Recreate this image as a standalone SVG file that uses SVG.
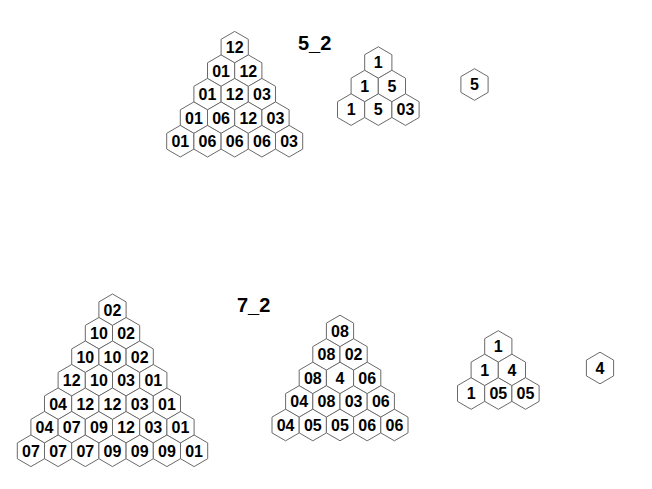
<svg xmlns="http://www.w3.org/2000/svg" width="652" height="489" viewBox="0 0 652 489">
<style>
.h{fill:#fff;stroke:#6a6a6a;stroke-width:1}
.t{font-family:"Liberation Sans",Arial,sans-serif;font-weight:bold;font-size:16px;text-anchor:middle;fill:#000}
.lbl{font-family:"Liberation Sans",Arial,sans-serif;font-weight:bold;font-size:20px;fill:#000}
</style>
<defs>
<polygon id="hex" class="h" points="0,-15.8 13.6,-7.9 13.6,7.9 0,15.8 -13.6,7.9 -13.6,-7.9"/>
</defs>
<rect width="652" height="489" fill="#fff"/>
<text class="lbl" x="298" y="49.5">5_2</text>
<text class="lbl" x="237" y="312">7_2</text>
<g id="pyrA">
<g id="a1" transform="translate(234.7,47.2)"><use href="#hex"/><text class="t" y="5.8">12</text></g>
<g id="a2" transform="translate(221.1,70.7)"><use href="#hex"/><text class="t" y="5.8">01</text></g>
<g id="a3" transform="translate(248.3,70.7)"><use href="#hex"/><text class="t" y="5.8">12</text></g>
<g id="a4" transform="translate(207.5,94.2)"><use href="#hex"/><text class="t" y="5.8">01</text></g>
<g id="a5" transform="translate(234.7,94.2)"><use href="#hex"/><text class="t" y="5.8">12</text></g>
<g id="a6" transform="translate(261.9,94.2)"><use href="#hex"/><text class="t" y="5.8">03</text></g>
<g id="a7" transform="translate(193.9,117.7)"><use href="#hex"/><text class="t" y="5.8">01</text></g>
<g id="a8" transform="translate(221.1,117.7)"><use href="#hex"/><text class="t" y="5.8">06</text></g>
<g id="a9" transform="translate(248.3,117.7)"><use href="#hex"/><text class="t" y="5.8">12</text></g>
<g id="a10" transform="translate(275.5,117.7)"><use href="#hex"/><text class="t" y="5.8">03</text></g>
<g id="a11" transform="translate(180.3,141.2)"><use href="#hex"/><text class="t" y="5.8">01</text></g>
<g id="a12" transform="translate(207.5,141.2)"><use href="#hex"/><text class="t" y="5.8">06</text></g>
<g id="a13" transform="translate(234.7,141.2)"><use href="#hex"/><text class="t" y="5.8">06</text></g>
<g id="a14" transform="translate(261.9,141.2)"><use href="#hex"/><text class="t" y="5.8">06</text></g>
<g id="a15" transform="translate(289.1,141.2)"><use href="#hex"/><text class="t" y="5.8">03</text></g>
</g>
<g id="pyrB">
<g id="b1" transform="translate(378.3,62.6)"><use href="#hex"/><text class="t" y="5.8">1</text></g>
<g id="b2" transform="translate(364.7,86.1)"><use href="#hex"/><text class="t" y="5.8">1</text></g>
<g id="b3" transform="translate(391.9,86.1)"><use href="#hex"/><text class="t" y="5.8">5</text></g>
<g id="b4" transform="translate(351.1,109.6)"><use href="#hex"/><text class="t" y="5.8">1</text></g>
<g id="b5" transform="translate(378.3,109.6)"><use href="#hex"/><text class="t" y="5.8">5</text></g>
<g id="b6" transform="translate(405.5,109.6)"><use href="#hex"/><text class="t" y="5.8">03</text></g>
</g>
<g id="c1" transform="translate(474.5,84.5)"><use href="#hex"/><text class="t" y="5.8">5</text></g>
<g id="pyrD">
<g id="d1" transform="translate(112.5,309.8)"><use href="#hex"/><text class="t" y="5.8">02</text></g>
<g id="d2" transform="translate(98.9,333.3)"><use href="#hex"/><text class="t" y="5.8">10</text></g>
<g id="d3" transform="translate(126.1,333.3)"><use href="#hex"/><text class="t" y="5.8">02</text></g>
<g id="d4" transform="translate(85.3,356.8)"><use href="#hex"/><text class="t" y="5.8">10</text></g>
<g id="d5" transform="translate(112.5,356.8)"><use href="#hex"/><text class="t" y="5.8">10</text></g>
<g id="d6" transform="translate(139.7,356.8)"><use href="#hex"/><text class="t" y="5.8">02</text></g>
<g id="d7" transform="translate(71.7,380.3)"><use href="#hex"/><text class="t" y="5.8">12</text></g>
<g id="d8" transform="translate(98.9,380.3)"><use href="#hex"/><text class="t" y="5.8">10</text></g>
<g id="d9" transform="translate(126.1,380.3)"><use href="#hex"/><text class="t" y="5.8">03</text></g>
<g id="d10" transform="translate(153.3,380.3)"><use href="#hex"/><text class="t" y="5.8">01</text></g>
<g id="d11" transform="translate(58.1,403.8)"><use href="#hex"/><text class="t" y="5.8">04</text></g>
<g id="d12" transform="translate(85.3,403.8)"><use href="#hex"/><text class="t" y="5.8">12</text></g>
<g id="d13" transform="translate(112.5,403.8)"><use href="#hex"/><text class="t" y="5.8">12</text></g>
<g id="d14" transform="translate(139.7,403.8)"><use href="#hex"/><text class="t" y="5.8">03</text></g>
<g id="d15" transform="translate(166.9,403.8)"><use href="#hex"/><text class="t" y="5.8">01</text></g>
<g id="d16" transform="translate(44.5,427.3)"><use href="#hex"/><text class="t" y="5.8">04</text></g>
<g id="d17" transform="translate(71.7,427.3)"><use href="#hex"/><text class="t" y="5.8">07</text></g>
<g id="d18" transform="translate(98.9,427.3)"><use href="#hex"/><text class="t" y="5.8">09</text></g>
<g id="d19" transform="translate(126.1,427.3)"><use href="#hex"/><text class="t" y="5.8">12</text></g>
<g id="d20" transform="translate(153.3,427.3)"><use href="#hex"/><text class="t" y="5.8">03</text></g>
<g id="d21" transform="translate(180.5,427.3)"><use href="#hex"/><text class="t" y="5.8">01</text></g>
<g id="d22" transform="translate(30.9,450.8)"><use href="#hex"/><text class="t" y="5.8">07</text></g>
<g id="d23" transform="translate(58.1,450.8)"><use href="#hex"/><text class="t" y="5.8">07</text></g>
<g id="d24" transform="translate(85.3,450.8)"><use href="#hex"/><text class="t" y="5.8">07</text></g>
<g id="d25" transform="translate(112.5,450.8)"><use href="#hex"/><text class="t" y="5.8">09</text></g>
<g id="d26" transform="translate(139.7,450.8)"><use href="#hex"/><text class="t" y="5.8">09</text></g>
<g id="d27" transform="translate(166.9,450.8)"><use href="#hex"/><text class="t" y="5.8">09</text></g>
<g id="d28" transform="translate(194.1,450.8)"><use href="#hex"/><text class="t" y="5.8">01</text></g>
</g>
<g id="pyrE">
<g id="e1" transform="translate(340,331)"><use href="#hex"/><text class="t" y="5.8">08</text></g>
<g id="e2" transform="translate(326.4,354.5)"><use href="#hex"/><text class="t" y="5.8">08</text></g>
<g id="e3" transform="translate(353.6,354.5)"><use href="#hex"/><text class="t" y="5.8">02</text></g>
<g id="e4" transform="translate(312.8,378)"><use href="#hex"/><text class="t" y="5.8">08</text></g>
<g id="e5" transform="translate(340,378)"><use href="#hex"/><text class="t" y="5.8">4</text></g>
<g id="e6" transform="translate(367.2,378)"><use href="#hex"/><text class="t" y="5.8">06</text></g>
<g id="e7" transform="translate(299.2,401.5)"><use href="#hex"/><text class="t" y="5.8">04</text></g>
<g id="e8" transform="translate(326.4,401.5)"><use href="#hex"/><text class="t" y="5.8">08</text></g>
<g id="e9" transform="translate(353.6,401.5)"><use href="#hex"/><text class="t" y="5.8">03</text></g>
<g id="e10" transform="translate(380.8,401.5)"><use href="#hex"/><text class="t" y="5.8">06</text></g>
<g id="e11" transform="translate(285.6,425)"><use href="#hex"/><text class="t" y="5.8">04</text></g>
<g id="e12" transform="translate(312.8,425)"><use href="#hex"/><text class="t" y="5.8">05</text></g>
<g id="e13" transform="translate(340,425)"><use href="#hex"/><text class="t" y="5.8">05</text></g>
<g id="e14" transform="translate(367.2,425)"><use href="#hex"/><text class="t" y="5.8">06</text></g>
<g id="e15" transform="translate(394.4,425)"><use href="#hex"/><text class="t" y="5.8">06</text></g>
</g>
<g id="pyrF">
<g id="f1" transform="translate(498.3,346.5)"><use href="#hex"/><text class="t" y="5.8">1</text></g>
<g id="f2" transform="translate(484.7,370)"><use href="#hex"/><text class="t" y="5.8">1</text></g>
<g id="f3" transform="translate(511.9,370)"><use href="#hex"/><text class="t" y="5.8">4</text></g>
<g id="f4" transform="translate(471.1,393.5)"><use href="#hex"/><text class="t" y="5.8">1</text></g>
<g id="f5" transform="translate(498.3,393.5)"><use href="#hex"/><text class="t" y="5.8">05</text></g>
<g id="f6" transform="translate(525.5,393.5)"><use href="#hex"/><text class="t" y="5.8">05</text></g>
</g>
<g id="g1" transform="translate(600,368)"><use href="#hex"/><text class="t" y="5.8">4</text></g>
</svg>
